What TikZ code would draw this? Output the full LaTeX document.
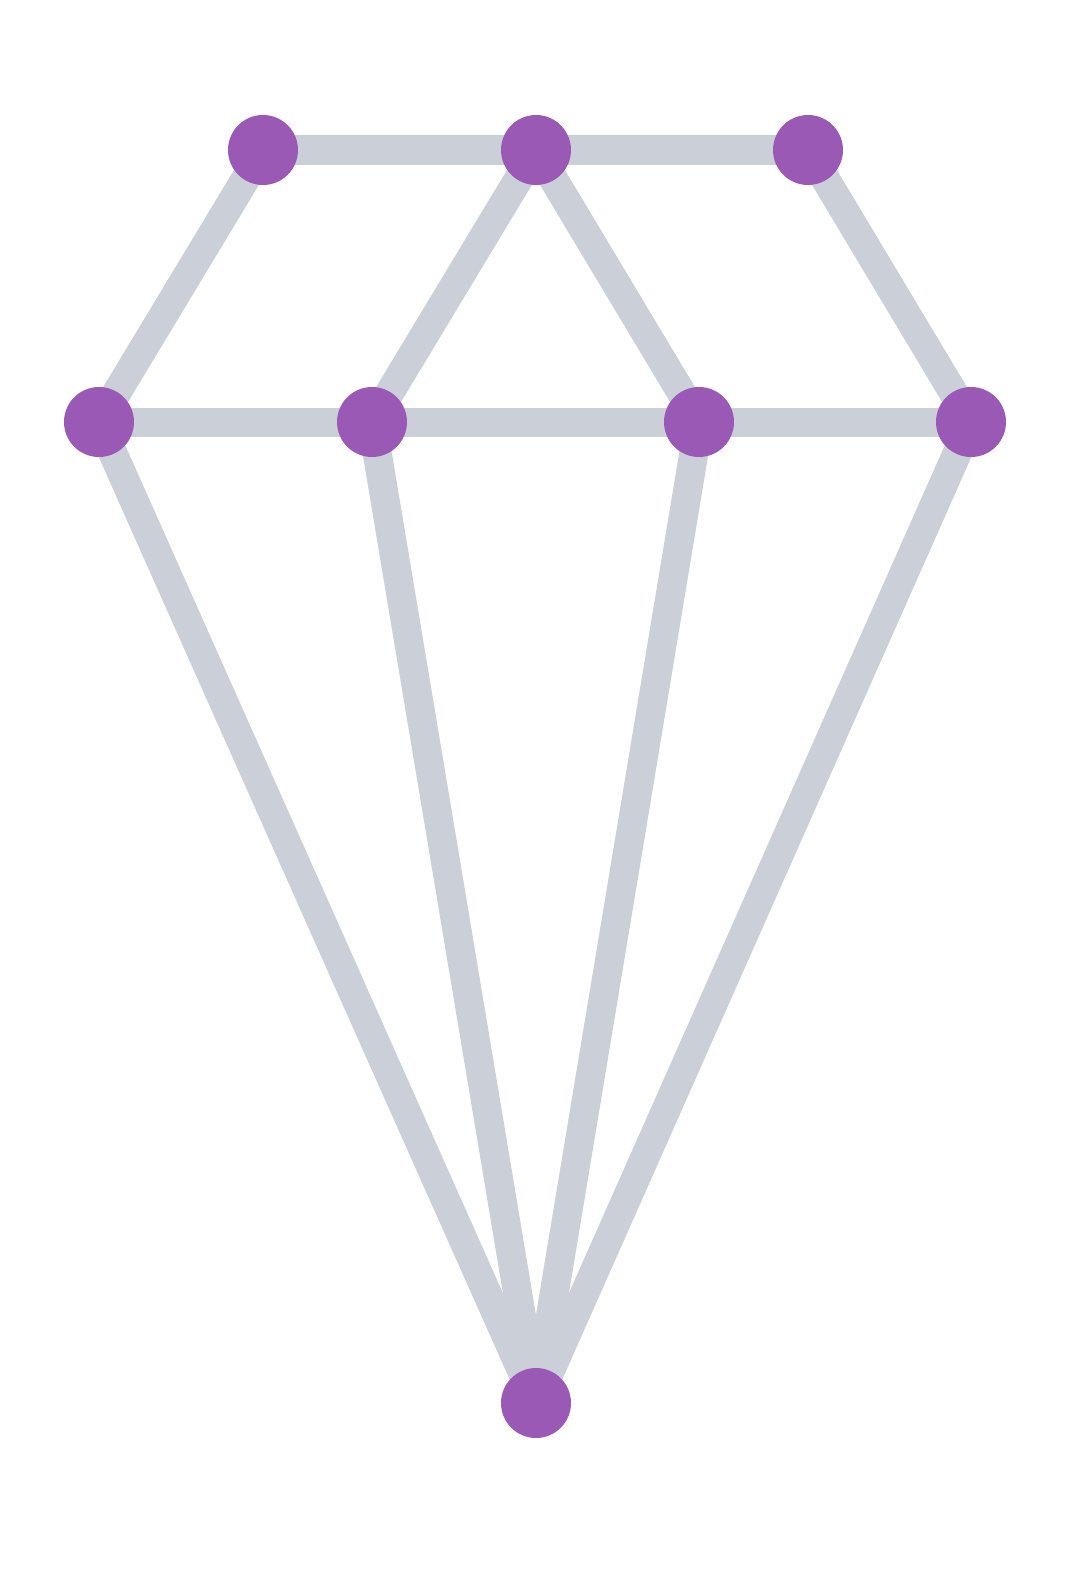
\documentclass[tikz,border=0pt]{standalone}
\usetikzlibrary{backgrounds}
\definecolor{gem}{HTML}{9B59B6}
\definecolor{bar}{HTML}{CBD0D8}
\tikzset{
  vert/.style={circle, fill=gem, inner sep=0pt, minimum size=70pt, draw=none},
  link/.style={draw=bar, line width=29pt}
}
\begin{document}
\begin{tikzpicture}[x=1pt,y=-1pt]
\useasboundingbox (0,0) rectangle (1080,1592);
\node[vert] (tl) at (263,150) {};
\node[vert] (tm) at (536,150) {};
\node[vert] (tr) at (808,150) {};
\node[vert] (ml) at (99,422) {};
\node[vert] (m2) at (372,422) {};
\node[vert] (m3) at (699,422) {};
\node[vert] (mr) at (971,422) {};
\node[vert] (b) at (536,1403) {};
\begin{pgfonlayer}{background}
\fill[white] (0,0) rectangle (1080,1592);
\draw[link] (tl.center) -- (tm.center);
\draw[link] (tm.center) -- (tr.center);
\draw[link] (tl.center) -- (ml.center);
\draw[link] (tm.center) -- (m2.center);
\draw[link] (tm.center) -- (m3.center);
\draw[link] (tr.center) -- (mr.center);
\draw[link] (ml.center) -- (m2.center);
\draw[link] (m2.center) -- (m3.center);
\draw[link] (m3.center) -- (mr.center);
\draw[link] (ml.center) -- (b.center);
\draw[link] (m2.center) -- (b.center);
\draw[link] (m3.center) -- (b.center);
\draw[link] (mr.center) -- (b.center);
\end{pgfonlayer}
\end{tikzpicture}
\end{document}
